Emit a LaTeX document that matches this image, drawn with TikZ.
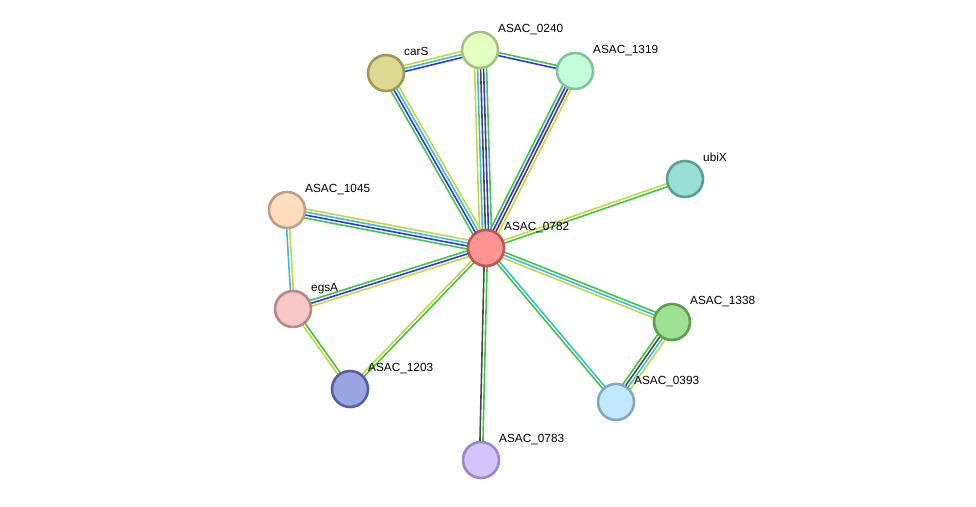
\documentclass[tikz,border=0pt]{standalone}
\usepackage{fontspec}
\setmainfont{Liberation Sans}
\usetikzlibrary{calc,backgrounds}
\definecolor{cgreen}{HTML}{3FC83F}
\definecolor{cblue}{HTML}{3434F0}
\definecolor{ccyan}{HTML}{3CBCE0}
\definecolor{cblack}{HTML}{4A4A4A}
\definecolor{cyell}{HTML}{C4D840}
\definecolor{f0782}{HTML}{FC9494}\definecolor{d0782}{HTML}{C05454}
\definecolor{f0240}{HTML}{E4FFC2}\definecolor{d0240}{HTML}{A6C184}
\definecolor{fcarS}{HTML}{DDD991}\definecolor{dcarS}{HTML}{9E9B55}
\definecolor{f1319}{HTML}{C2FFDA}\definecolor{d1319}{HTML}{82C29E}
\definecolor{fubiX}{HTML}{98E0D6}\definecolor{dubiX}{HTML}{5A9F96}
\definecolor{f1045}{HTML}{FFDDBE}\definecolor{d1045}{HTML}{C0A080}
\definecolor{fegsA}{HTML}{F7C8C8}\definecolor{degsA}{HTML}{B78888}
\definecolor{f1203}{HTML}{9AA6E2}\definecolor{d1203}{HTML}{5660A0}
\definecolor{f0783}{HTML}{D4C4FC}\definecolor{d0783}{HTML}{9A88C4}
\definecolor{f0393}{HTML}{C2E8FF}\definecolor{d0393}{HTML}{82A8C2}
\definecolor{f1338}{HTML}{9EE094}\definecolor{d1338}{HTML}{5CA050}
\newcommand\stredge[4]{%
  \foreach \cc [count=\ii] in {#4} {
    \pgfmathsetmacro\oo{(\ii-1-(#3-1)/2)*3}
    \draw[line width=1.6pt,\cc] ($(#1)!\oo pt!90:(#2)$) -- ($(#2)!\oo pt!-90:(#1)$);
  }}
\tikzset{
  prot/.style={circle,minimum size=36pt,inner sep=0pt,line width=2.6pt,fill=f#1,draw=d#1},
  lbl/.style={anchor=base west,font=\fontsize{11.8}{13}\selectfont,inner sep=0pt}
}
\begin{document}
\begin{tikzpicture}[x=1pt,y=-1pt]
\useasboundingbox (0,0) rectangle (976,506);
\node[prot=0782] (n0782) at (486,248) {};
\node[prot=0240] (n0240) at (480,50) {};
\node[prot=carS] (ncarS) at (386,73) {};
\node[prot=1319] (n1319) at (575,71) {};
\node[prot=ubiX] (nubiX) at (685,179) {};
\node[prot=1045] (n1045) at (287,210) {};
\node[prot=egsA] (negsA) at (293,309) {};
\node[prot=1203] (n1203) at (350,389) {};
\node[prot=0783] (n0783) at (481,460) {};
\node[prot=0393] (n0393) at (616,402) {};
\node[prot=1338] (n1338) at (672,322) {};
\begin{pgfonlayer}{background}
\fill[white] (0,0) rectangle (976,506);
\stredge{ncarS}{n0240}{3}{cblue,ccyan,cyell}
\stredge{n0240}{n1319}{2}{cblue,cgreen}
\stredge{ncarS}{n0782}{4}{cgreen,cblue,ccyan,cyell}
\stredge{n0240}{n0782}{5}{cyell,ccyan,cblack,cblue,cgreen}
\stredge{n1319}{n0782}{4}{cgreen,cblue,cblack,cyell}
\stredge{nubiX}{n0782}{2}{cyell,cgreen}
\stredge{n1045}{n0782}{4}{cgreen,cblue,ccyan,cyell}
\stredge{n1045}{negsA}{2}{ccyan,cyell}
\stredge{negsA}{n0782}{3}{cyell,cblue,cgreen}
\stredge{negsA}{n1203}{2}{cyell,cgreen}
\stredge{n1203}{n0782}{2}{cgreen,cyell}
\stredge{n0783}{n0782}{2}{cgreen,cblack}
\stredge{n0393}{n0782}{2}{ccyan,cgreen}
\stredge{n1338}{n0782}{3}{cgreen,ccyan,cyell}
\stredge{n1338}{n0393}{4}{cgreen,cblack,ccyan,cyell}
\end{pgfonlayer}
\node[lbl] (l0782) at ($(n0782)+(18,-18)$) {ASAC\_0782};
\node[lbl] (l0240) at ($(n0240)+(18,-18)$) {ASAC\_0240};
\node[lbl] (lcarS) at ($(ncarS)+(18,-18)$) {carS};
\node[lbl] (l1319) at ($(n1319)+(18,-18)$) {ASAC\_1319};
\node[lbl] (lubiX) at ($(nubiX)+(18,-18)$) {ubiX};
\node[lbl] (l1045) at ($(n1045)+(18,-18)$) {ASAC\_1045};
\node[lbl] (legsA) at ($(negsA)+(18,-18)$) {egsA};
\node[lbl] (l1203) at ($(n1203)+(18,-18)$) {ASAC\_1203};
\node[lbl] (l0783) at ($(n0783)+(18,-18)$) {ASAC\_0783};
\node[lbl] (l0393) at ($(n0393)+(18,-18)$) {ASAC\_0393};
\node[lbl] (l1338) at ($(n1338)+(18,-18)$) {ASAC\_1338};
\end{tikzpicture}
\end{document}
